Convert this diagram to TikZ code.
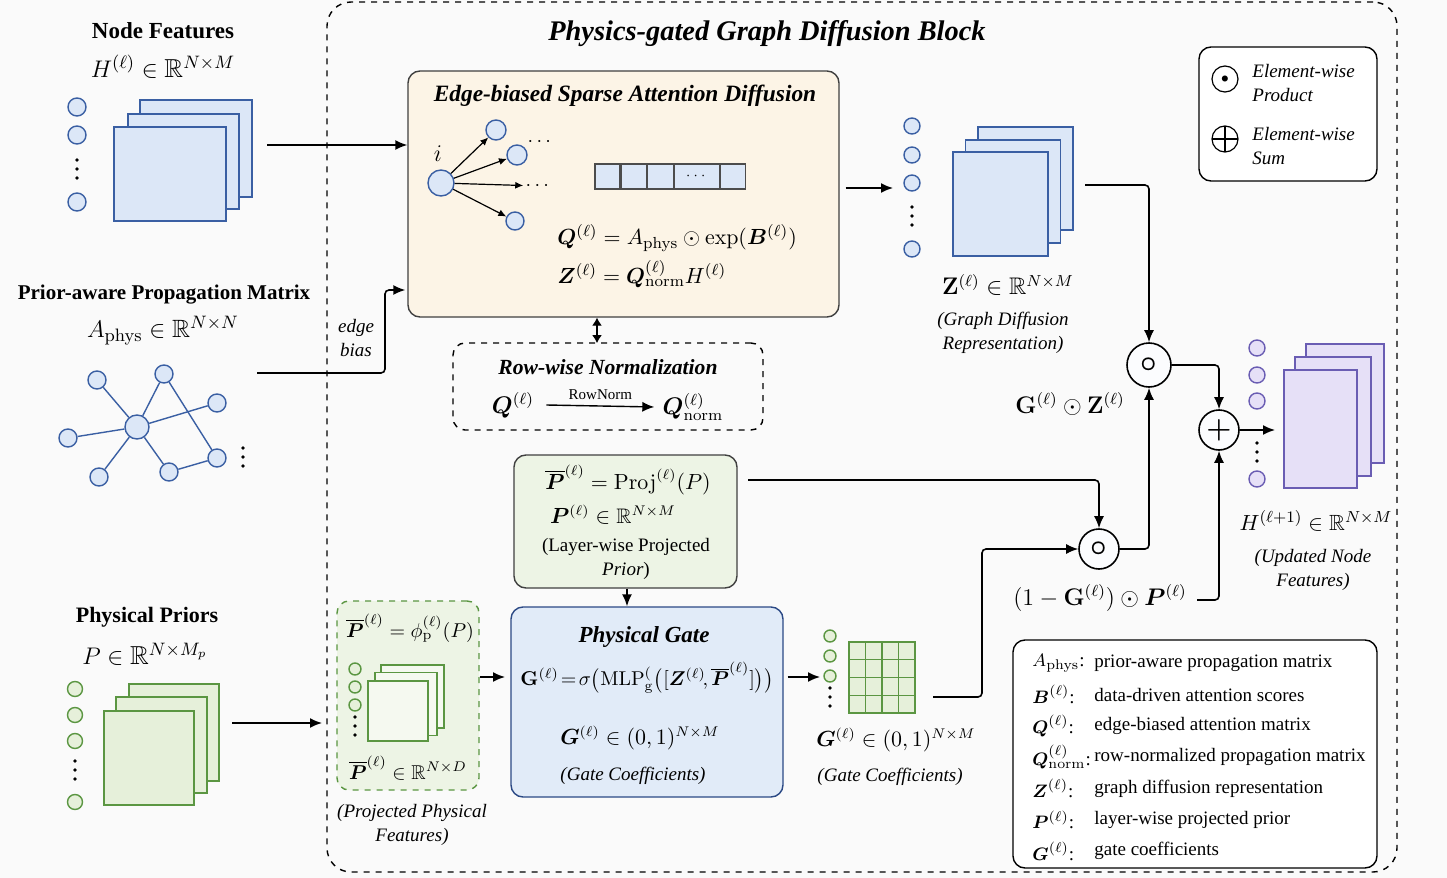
\documentclass[tikz,border=0pt]{standalone}
\usepackage[no-math]{fontspec}
\setmainfont{Liberation Serif}
\usepackage{amsmath,amssymb,bm}
\usetikzlibrary{arrows.meta,positioning,calc}

\definecolor{bluefill}{HTML}{DCE7F7}
\definecolor{blueline}{HTML}{3A5FA3}
\definecolor{greenfill}{HTML}{E6F0DA}
\definecolor{greenline}{HTML}{5B9642}
\definecolor{purplefill}{HTML}{E6E0F7}
\definecolor{purpleline}{HTML}{6A5DB3}
\definecolor{creamfill}{HTML}{FCF4E6}
\definecolor{gatefill}{HTML}{E1EBF8}
\definecolor{gateline}{HTML}{2B4985}
\definecolor{projfill}{HTML}{EDF4E5}
\definecolor{pagefill}{HTML}{FAFAFA}

\newcommand{\ly}{^{(\ell)}}
\newcommand{\RR}{\mathbb{R}}
\newcommand{\Pbar}{\overline{\bm{P}}}

\tikzset{
  arr/.style={-{Latex[length=6pt,width=5pt]}, line width=0.8pt, rounded corners=2pt},
  thinarr/.style={-{Latex[length=4pt,width=3.5pt]}, line width=0.6pt},
  sheet/.style={draw=#1line, fill=#1fill, line width=0.6pt, inner sep=0pt},
  vdot/.style={circle, draw=#1line, fill=#1fill, line width=0.7pt, inner sep=0pt, minimum size=9pt},
  dotcol/.style={minimum width=4pt, minimum height=14pt,
    path picture={\foreach \d in {-4.5pt,0pt,4.5pt}
      \fill ([yshift=\d]path picture bounding box.center) circle (0.9pt);}},
  opnode/.style={circle, draw, line width=0.8pt, fill=white!88!bluefill, inner sep=0pt, minimum size=21pt},
  panel/.style={draw, rounded corners=6pt, line width=0.7pt, inner sep=0pt},
  headtxt/.style={font=\fontsize{11.5}{13}\selectfont\bfseries},
  titletxt/.style={font=\fontsize{11}{13}\selectfont\bfseries\itshape},
  mtxt/.style={font=\fontsize{11}{13}\selectfont},
  bigm/.style={font=\fontsize{12.5}{14}\selectfont},
  captxt/.style={font=\fontsize{9.5}{12}\selectfont\itshape, align=center},
  legtxt/.style={font=\fontsize{9.5}{11}\selectfont},
}

\begin{document}
\begin{tikzpicture}[x=0.5pt, y=-0.5pt, every node/.append style={inner sep=0pt}]
  \useasboundingbox[fill=pagefill] (0,0) rectangle (1447,878);

  % main block
  \node[draw, dashed, rounded corners=12pt, line width=0.7pt, minimum width=535pt, minimum height=435pt] (block) at (862,437) {};
  \node[font=\fontsize{14.2}{16}\selectfont\bfseries\itshape] (title) at (767,34) {Physics-gated Graph Diffusion Block};

  % node features
  \node[headtxt] (nfhead) at (163,31) {Node Features};
  \node[bigm, font=\fontsize{13}{15}\selectfont] (nfmath) at (163,67) {$H\ly \in \RR^{N\times M}$};
  \foreach \y [count=\i] in {107,135,202}
    \node[vdot=blue] (hc\i) at (77,\y) {};
  \node[dotcol] (hdots) at (77,169) {};
  \node[sheet=blue, minimum width=56pt, minimum height=48.5pt] (h3) at (196,148.5) {};
  \node[sheet=blue, minimum width=55.5pt, minimum height=47.5pt] (h2) at (183.5,161.5) {};
  \node[sheet=blue, minimum width=56pt, minimum height=47pt] (h1) at (170,174) {};
  \coordinate (hout) at (267,145);

  % prior-aware propagation matrix
  \node[font=\fontsize{10.5}{13}\selectfont\bfseries] (pmhead) at (164,295) {Prior-aware Propagation Matrix};
  \node[bigm] (pmmath) at (163,331) {$A_{\mathrm{phys}} \in \RR^{N\times N}$};
  \node[vdot=blue, minimum size=12pt] (c) at (137,427) {};
  \node[vdot=blue] (g1) at (97,380) {};
  \node[vdot=blue] (g2) at (164,374) {};
  \node[vdot=blue] (g3) at (217,403) {};
  \node[vdot=blue] (g4) at (68,438) {};
  \node[vdot=blue] (g5) at (99,477) {};
  \node[vdot=blue] (g6) at (169,472) {};
  \node[vdot=blue] (g7) at (217,458) {};
  \begin{scope}[blueline, line width=0.7pt]
    \foreach \n in {g1,g2,g3,g4,g5,g6}
      \draw (c) -- (\n);
    \draw (g2) -- (g7);
    \draw (g6) -- (g7);
  \end{scope}
  \node[dotcol] (gdots) at (243,457) {};
  \coordinate (aout) at (257,373);
  \coordinate (abend) at (385,290);
  \node[captxt] (ebias) at (356,338) {edge\\bias};

  % physical priors
  \node[headtxt, font=\fontsize{11}{13}\selectfont\bfseries] (pphead) at (147,617) {Physical Priors};
  \node[bigm, font=\fontsize{13}{15}\selectfont] (ppmath) at (145,654) {$P \in \RR^{N\times M_p}$};
  \foreach \y [count=\i] in {689,715,741,802}
    \node[vdot=green, minimum size=7.5pt] (pc\i) at (75,\y) {};
  \node[dotcol] (pdots) at (75,770) {};
  \node[sheet=green, minimum width=45pt, minimum height=48.5pt] (p3) at (174,732.5) {};
  \node[sheet=green, minimum width=45.5pt, minimum height=48pt] (p2) at (161.5,745) {};
  \node[sheet=green, minimum width=45pt, minimum height=47pt] (p1) at (149,758) {};
  \coordinate (pout) at (232,723);
  \coordinate (pin) at (322,723);

  % edge-biased sparse attention diffusion
  \node[panel, fill=creamfill, draw=black!75, minimum width=215.5pt, minimum height=123pt] (ebox) at (623.5,194) {};
  \node[titletxt, font=\fontsize{11.7}{13}\selectfont\bfseries\itshape] (ebtitle) at (625,96) {Edge-biased Sparse Attention Diffusion};
  \node[vdot=blue, minimum size=13pt] (ni) at (441,183) {};
  \node[font=\fontsize{12}{13}\selectfont\itshape] (ilabel) at (438,154) {$i$};
  \node[vdot=blue, minimum size=10pt] (nj1) at (496,130) {};
  \node[vdot=blue, minimum size=10pt] (nj2) at (517,155) {};
  \node[vdot=blue, minimum size=9pt] (nj3) at (515,221) {};
  \node[font=\bfseries] (jdots1) at (541,142) {$\cdots$};
  \node[font=\bfseries] (jdots2) at (539,186) {$\cdots$};
  \draw[thinarr] (ni) -- (nj1);
  \draw[thinarr] (ni) -- (nj2);
  \draw[thinarr, shorten >=1pt] (ni) -- (jdots2);
  \draw[thinarr] (ni) -- (nj3);
  \node[sheet=blue, draw=black!70, minimum width=12.5pt, minimum height=12.5pt] (cell1) at (607.5,176.5) {};
  \node[sheet=blue, draw=black!70, minimum width=12.5pt, minimum height=12.5pt, right=0pt of cell1] (cell2) {};
  \node[sheet=blue, draw=black!70, minimum width=13pt, minimum height=12.5pt, right=0pt of cell2] (cell3) {};
  \node[sheet=blue, draw=black!70, minimum width=22.5pt, minimum height=12.5pt, right=0pt of cell3, font=\scriptsize] (cell4) {$\cdots$};
  \node[sheet=blue, draw=black!70, minimum width=12.5pt, minimum height=12.5pt, right=0pt of cell4] (cell5) {};
  \node[mtxt, font=\fontsize{11.4}{13}\selectfont, anchor=west] (qeq) at (557,238) {$\bm{Q}\ly = A_{\mathrm{phys}} \odot \exp(\bm{B}\ly)$};
  \node[mtxt, font=\fontsize{11.4}{13}\selectfont, anchor=west] (zeq) at (557,274) {$\bm{Z}\ly = \bm{Q}\ly_{\mathrm{norm}} H\ly$};

  % row-wise normalization
  \node[draw, dashed, rounded corners=6pt, line width=0.7pt, minimum width=155pt, minimum height=43.5pt] (rbox) at (608,386.5) {};
  \coordinate (rtop) at (597,343);
  \draw[{Latex[length=4pt,width=5pt]}-{Latex[length=4pt,width=5pt]}, line width=0.6pt] (rtop |- ebox.south) -- (rtop);
  \node[titletxt, font=\fontsize{10.8}{13}\selectfont\bfseries\itshape] (rtitle) at (608,367) {Row-wise Normalization};
  \node[mtxt, font=\fontsize{11.5}{13}\selectfont] (rq) at (513,405) {$\bm{Q}\ly$};
  \node[mtxt, font=\fontsize{11.5}{13}\selectfont] (rqn) at (693,407) {$\bm{Q}\ly_{\mathrm{norm}}$};
  \draw[arr, line width=0.7pt] ([xshift=6pt]rq.east) -- node[above=3pt, font=\fontsize{7.5}{9}\selectfont] (rlabel) {RowNorm} ([xshift=-4pt]rqn.west);

  % layer-wise projected prior
  \node[panel, fill=projfill, draw=black!75, minimum width=111.5pt, minimum height=66.5pt] (proj) at (625.5,521.5) {};
  \node[mtxt, font=\fontsize{10.5}{13}\selectfont] (proj1) at (628,480) {$\Pbar\ly = \mathrm{Proj}\ly(P)$};
  \node[mtxt, font=\fontsize{10.5}{13}\selectfont] (proj2) at (613,515) {$\bm{P}\ly \in \RR^{N\times M}$};
  \node[font=\fontsize{9.5}{12}\selectfont, align=center] (proj3) at (626,559) {(Layer-wise Projected\\\textit{Prior})};
  \coordinate (projout) at (748,480);

  % projected physical features
  \node[draw=greenline, fill=projfill, dashed, rounded corners=6pt, line width=0.7pt, minimum width=71pt, minimum height=94.5pt] (pfeat) at (408,695.5) {};
  \node[font=\fontsize{10}{12}\selectfont] (pf1) at (410,628) {$\Pbar\ly = \phi_{\mathrm{p}}\ly(P)$};
  \foreach \y [count=\i] in {669,687,705}
    \node[vdot=green, minimum size=6pt] (fc\i) at (355,\y) {};
  \node[dotcol] (fdots) at (355,726) {};
  \node[sheet=green, fill=white!60!greenfill, minimum width=31.5pt, minimum height=31.5pt] (f3) at (412.5,696.5) {};
  \node[sheet=green, fill=white!60!greenfill, minimum width=31pt, minimum height=31.5pt] (f2) at (406,704) {};
  \node[sheet=green, fill=white!60!greenfill, minimum width=30pt, minimum height=30pt] (f1) at (398,711) {};
  \node[font=\fontsize{10}{12}\selectfont] (pf2) at (408,768) {$\Pbar\ly \in \RR^{N\times D}$};
  \node[captxt] (pfcap) at (412,825) {(Projected Physical\\Features)};

  % physical gate
  \node[panel, fill=gatefill, draw=gateline, minimum width=136pt, minimum height=95pt] (gate) at (647,702) {};
  \node[titletxt, font=\fontsize{11.5}{13}\selectfont\bfseries\itshape] (gtitle) at (644,637) {Physical Gate};
  \node[font=\fontsize{10.2}{13}\selectfont] (geq) at (647,678) {$\mathbf{G}\ly \!=\! \sigma\bigl(\mathrm{MLP}^{(}_{\mathrm{g}}\bigl([\bm{Z}\ly\!,\Pbar\ly]\bigr)\bigr)$};
  \node[mtxt, font=\fontsize{10.5}{13}\selectfont] (grange) at (640,738) {$\bm{G}\ly \in (0,1)^{N\times M}$};
  \node[captxt] (gcap) at (633,776) {(Gate Coefficients)};
  \coordinate (gin) at (505,677);

  % gate coefficients
  \foreach \y [count=\i] in {636,656,676}
    \node[vdot=green, minimum size=6pt] (gc\i) at (830,\y) {};
  \node[dotcol] (gcdots) at (830,697) {};
  \node[sheet=green, minimum width=33pt, minimum height=35.5pt] (gmat) at (882,677.5) {};
  \foreach \k in {1,2,3} {
    \draw[greenline, line width=0.6pt] ($(gmat.north west)!\k/4!(gmat.north east)$) -- ($(gmat.south west)!\k/4!(gmat.south east)$);
    \draw[greenline, line width=0.6pt] ($(gmat.north west)!\k/4!(gmat.south west)$) -- ($(gmat.north east)!\k/4!(gmat.south east)$);
  }
  \node[mtxt, font=\fontsize{10.5}{13}\selectfont] (gmlabel) at (896,740) {$\bm{G}\ly \in (0,1)^{N\times M}$};
  \node[captxt] (gmcap) at (890,777) {(Gate Coefficients)};
  \coordinate (gmin) at (820,677);
  \coordinate (gout) at (933,697);
  \coordinate (gbend) at (982,697);

  % graph diffusion representation
  \foreach \y [count=\i] in {126,155,183,249}
    \node[vdot=blue, minimum size=8pt] (zc\i) at (912,\y) {};
  \node[dotcol] (zdots) at (912,216) {};
  \node[sheet=blue, minimum width=47.5pt, minimum height=51.5pt] (z3) at (1025.5,178.5) {};
  \node[sheet=blue, minimum width=47.5pt, minimum height=51.5pt] (z2) at (1013,191.5) {};
  \node[sheet=blue, minimum width=47.5pt, minimum height=52pt] (z1) at (1000.5,204) {};
  \node[font=\fontsize{12}{14}\selectfont] (zlabel) at (1008,285) {$\mathbf{Z}\ly \in \RR^{N\times M}$};
  \node[captxt] (zcap) at (1003,333) {(Graph Diffusion\\Representation)};
  \coordinate (zin) at (893,188);
  \coordinate (zout) at (1085,185);

  % gated fusion
  \node[opnode, minimum size=22pt, font=\Large] (odot1) at (1149,365) {$\boldsymbol{\circ}$};
  \node[opnode, minimum size=20pt, font=\Large] (odot2) at (1099,549) {$\boldsymbol{\circ}$};
  \node[opnode, minimum size=20pt, font=\Large] (plus) at (1219,430) {$\bm{+}$};
  \node[font=\fontsize{12}{14}\selectfont] (gzlabel) at (1070,404) {$\mathbf{G}\ly \odot \mathbf{Z}\ly$};
  \node[font=\fontsize{12}{14}\selectfont] (gplabel) at (1100,598) {$(1-\mathbf{G}\ly)\odot \bm{P}\ly$};
  \coordinate (gpout) at (1197,600);
  \coordinate (hin) at (1275,430);

  % updated node features
  \foreach \y [count=\i] in {348,375,401,479}
    \node[vdot=purple, minimum size=8pt] (uc\i) at (1257,\y) {};
  \node[dotcol] (udots) at (1257,452) {};
  \node[sheet=purple, minimum width=39pt, minimum height=59.5pt] (u3) at (1345,403.5) {};
  \node[sheet=purple, minimum width=38pt, minimum height=59.5pt] (u2) at (1333,416.5) {};
  \node[sheet=purple, minimum width=36.5pt, minimum height=59pt] (u1) at (1320.5,429) {};
  \node[mtxt] (ulabel) at (1316,521) {$H^{(\ell+1)} \in \RR^{N\times M}$};
  \node[captxt] (ucap) at (1313,570) {(Updated Node\\Features)};

  % symbol legend
  \node[panel, fill=white, minimum width=89pt, minimum height=67pt] (leg1) at (1288,114) {};
  \node[circle, draw, line width=0.6pt, minimum size=13pt, font=\scriptsize] (lodot) at (1225,79) {$\bullet$};
  \node[circle, draw, line width=0.6pt, minimum size=13pt,
        path picture={\draw[line width=0.6pt] (path picture bounding box.north) -- (path picture bounding box.south)
                      (path picture bounding box.west) -- (path picture bounding box.east);}] (lplus) at (1225,139) {};
  \node[captxt, align=left, anchor=west] (lprod) at (1252,83) {Element-wise\\Product};
  \node[captxt, align=left, anchor=west] (lsum) at (1252,146) {Element-wise\\Sum};

  % notation legend
  \node[panel, fill=white, minimum width=182pt, minimum height=114pt] (leg2) at (1195,754) {};
  \foreach \sym/\desc [count=\i] in {
      {$A_{\mathrm{phys}}$:}/{prior-aware propagation matrix},
      {$\bm{B}\ly$:}/{data-driven attention scores},
      {$\bm{Q}\ly$:}/{edge-biased attention matrix},
      {$\bm{Q}\ly_{\mathrm{norm}}$:}/{row-normalized propagation matrix},
      {$\bm{Z}\ly$:}/{graph diffusion representation},
      {$\bm{P}\ly$:}/{layer-wise projected prior},
      {$\bm{G}\ly$:}/{gate coefficients}} {
    \node[legtxt, anchor=west] (sym\i) at (1032,632+31.3*\i) {\sym};
    \node[legtxt, anchor=west] (desc\i) at (1094,632+31.3*\i) {\desc};
  }

  % connectors
  \draw[arr] (hout) -- (hout -| ebox.west);
  \draw[arr] (aout) -| (abend) -- ([xshift=-1pt]abend -| ebox.west);
  \draw[arr] ([xshift=3pt]ebox.east |- zin) -- (zin);
  \draw[arr] (pout) -- (pin);
  \draw[arr] (pfeat.east |- gin) -- (gin);
  \draw[arr] (proj.south -| 627,0) -- (gate.north -| 627,0);
  \draw[arr] (gate.east |- gmin) ++(2pt,0) -- (gmin);
  \draw[arr] (zout) -| (odot1.north);
  \draw[arr] (projout) -| (odot2.north);
  \draw[arr] (gout) -- (gbend) |- (odot2.west);
  \draw[arr] (odot2.east) -| (odot1.south);
  \draw[arr] (odot1.east) -| (plus.north);
  \draw[arr] (gpout) -| (plus.south);
  \draw[arr] (plus.east) -- (hin);
\end{tikzpicture}
\end{document}
